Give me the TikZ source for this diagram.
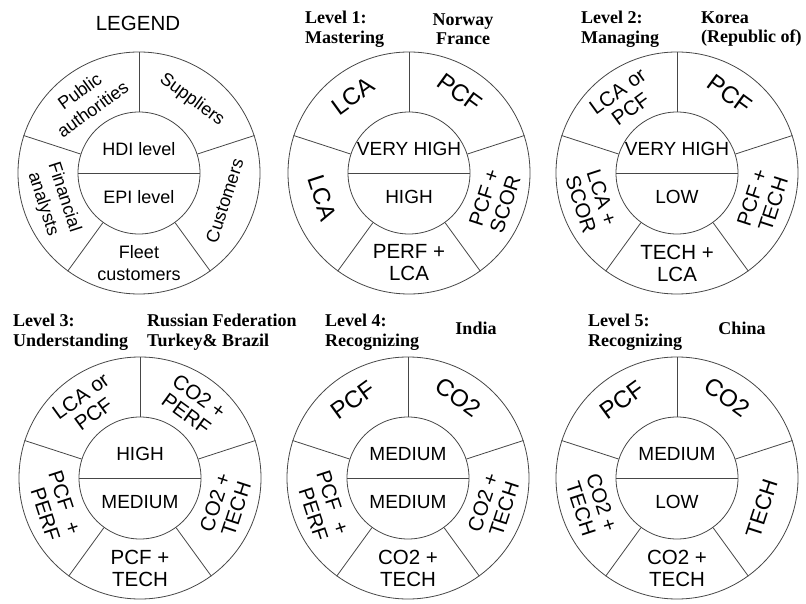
\documentclass[tikz,border=0pt]{standalone}
\usepackage{fontspec}
\setmainfont{Liberation Sans}
\newfontfamily\titlefont{Liberation Serif}
\usetikzlibrary{calc}
\definecolor{linecolor}{RGB}{70, 70, 70}
\tikzset{
outerring/.style={
  circle,
  draw=linecolor,
  line width=0.8pt,
  minimum size=242pt,
  inner sep=0pt
},
innerring/.style={
  circle,
  draw=linecolor,
  line width=0.8pt,
  minimum size=122pt,
  inner sep=0pt
},
spoke/.style={
  draw=linecolor,
  line width=0.8pt
},
sectortext/.style={
  align=center,
  inner sep=0pt,
  font=\fontsize{20.5}{22}\selectfont
},
legendtext/.style={
  font=\fontsize{18}{22}\selectfont
},
bigword/.style={
  font=\fontsize{24}{26}\selectfont
},
secNW/.style={sectortext, rotate=36},
secNE/.style={sectortext, rotate=-36},
secE/.style={sectortext, rotate=72},
secS/.style={sectortext},
secW/.style={sectortext, rotate=-72},
leveltext/.style={
  inner sep=0pt,
  font=\fontsize{19}{22}\selectfont
},
titlelabel/.style={
  align=left,
  anchor=west,
  inner sep=0pt,
  font=\titlefont\bfseries\fontsize{18}{19.5}\selectfont
},
countrylabel/.style={
  titlelabel,
  align=center,
  anchor=center
}
}

\begin{document}
\begin{tikzpicture}[x=1pt, y=1pt]
  \useasboundingbox (0,0) rectangle (806,603);
  \def\rText{90}   % radius of the sector labels
  \def\rWord{95}   % radius of the one-word labels
  \def\dLevel{24}  % offset of the HDI / EPI labels

  % Legend
  \node[font=\fontsize{20.5}{24}\selectfont] (legTitle) at (138,580) {LEGEND};
  \node[outerring] (leg-out) at (139,430) {};
  \node[innerring] (leg-in) at (139,430) {};
  \node[leveltext, legendtext] (leg-hdi) at ([yshift=\dLevel pt]leg-in.center) {HDI level};
  \node[leveltext, legendtext] (leg-epi) at ([yshift=-\dLevel pt]leg-in.center) {EPI level};
  \node[secNW, legendtext] (leg-nw) at ([shift={(126:\rText)}]leg-in.center) {Public\\authorities};
  \node[secNE, legendtext] (leg-ne) at ([shift={(54:\rText)}]leg-in.center) {Suppliers};
  \node[secE, legendtext] (leg-e) at ([shift={(-18:\rText)}]leg-in.center) {Customers};
  \node[secS, legendtext] (leg-s) at ([shift={(270:\rText)}]leg-in.center) {Fleet\\customers};
  \node[secW, legendtext] (leg-w) at ([shift={(198:\rText)}]leg-in.center) {Financial\\analysts};

  % Level 1: Norway, France
  \node[titlelabel] (one-title) at (305,574) {Level 1:\\Mastering};
  \node[countrylabel] (one-country) at (463,574) {Norway\\France};
  \node[outerring] (one-out) at (409,430) {};
  \node[innerring] (one-in) at (409,430) {};
  \node[leveltext] (one-hdi) at ([yshift=\dLevel pt]one-in.center) {VERY HIGH};
  \node[leveltext] (one-epi) at ([yshift=-\dLevel pt]one-in.center) {HIGH};
  \node[secNW, bigword] (one-nw) at ([shift={(126:\rWord)}]one-in.center) {LCA};
  \node[secNE, bigword] (one-ne) at ([shift={(58:\rWord)}]one-in.center) {PCF};
  \node[secE] (one-e) at ([shift={(-18:\rText)}]one-in.center) {PCF +\\SCOR};
  \node[secS] (one-s) at ([shift={(270:\rText)}]one-in.center) {PERF +\\LCA};
  \node[secW, bigword] (one-w) at ([shift={(196:\rText)}]one-in.center) {LCA};

  % Level 2: Korea
  \node[titlelabel] (two-title) at (581,574) {Level 2:\\Managing};
  \node[titlelabel] (two-country) at (701,574) {Korea\\(Republic of)};
  \node[outerring] (two-out) at (677,430) {};
  \node[innerring] (two-in) at (677,430) {};
  \node[leveltext] (two-hdi) at ([yshift=\dLevel pt]two-in.center) {VERY HIGH};
  \node[leveltext] (two-epi) at ([yshift=-\dLevel pt]two-in.center) {LOW};
  \node[secNW] (two-nw) at ([shift={(126:\rText)}]two-in.center) {LCA or\\PCF};
  \node[secNE, bigword] (two-ne) at ([shift={(56:\rWord)}]two-in.center) {PCF};
  \node[secE] (two-e) at ([shift={(-18:\rText)}]two-in.center) {PCF +\\TECH};
  \node[secS] (two-s) at ([shift={(270:\rText)}]two-in.center) {TECH +\\LCA};
  \node[secW] (two-w) at ([shift={(198:\rText)}]two-in.center) {LCA +\\SCOR};

  % Level 3: Russian Federation, Turkey, Brazil
  \node[titlelabel] (three-title) at (13,271) {Level 3:\\Understanding};
  \node[titlelabel] (three-country) at (147,271) {Russian Federation\\Turkey\& Brazil};
  \node[outerring] (three-out) at (140,125) {};
  \node[innerring] (three-in) at (140,125) {};
  \node[leveltext] (three-hdi) at ([yshift=\dLevel pt]three-in.center) {HIGH};
  \node[leveltext] (three-epi) at ([yshift=-\dLevel pt]three-in.center) {MEDIUM};
  \node[secNW] (three-nw) at ([shift={(126:\rText)}]three-in.center) {LCA or\\PCF};
  \node[secNE] (three-ne) at ([shift={(54:\rText)}]three-in.center) {CO2 +\\PERF};
  \node[secE] (three-e) at ([shift={(-18:\rText)}]three-in.center) {CO2 +\\TECH};
  \node[secS] (three-s) at ([shift={(270:\rText)}]three-in.center) {PCF +\\TECH};
  \node[secW, align=right] (three-w) at ([shift={(198:\rText)}]three-in.center) {PCF\hspace{12pt}+\\PERF};

  % Level 4: India
  \node[titlelabel] (four-title) at (325,271) {Level 4:\\Recognizing};
  \node[countrylabel] (four-country) at (476,275) {India};
  \node[outerring] (four-out) at (408,125) {};
  \node[innerring] (four-in) at (408,125) {};
  \node[leveltext] (four-hdi) at ([yshift=\dLevel pt]four-in.center) {MEDIUM};
  \node[leveltext] (four-epi) at ([yshift=-\dLevel pt]four-in.center) {MEDIUM};
  \node[secNW, bigword] (four-nw) at ([shift={(125:\rWord)}]four-in.center) {PCF};
  \node[secNE, bigword] (four-ne) at ([shift={(58:\rWord)}]four-in.center) {CO2};
  \node[secE] (four-e) at ([shift={(-18:\rText)}]four-in.center) {CO2 +\\TECH};
  \node[secS] (four-s) at ([shift={(270:\rText)}]four-in.center) {CO2 +\\TECH};
  \node[secW, align=right] (four-w) at ([shift={(198:\rText)}]four-in.center) {PCF\hspace{12pt}+\\PERF};

  % Level 5: China
  \node[titlelabel] (five-title) at (588,271) {Level 5:\\Recognizing};
  \node[countrylabel] (five-country) at (742,275) {China};
  \node[outerring] (five-out) at (677,125) {};
  \node[innerring] (five-in) at (677,125) {};
  \node[leveltext] (five-hdi) at ([yshift=\dLevel pt]five-in.center) {MEDIUM};
  \node[leveltext] (five-epi) at ([yshift=-\dLevel pt]five-in.center) {LOW};
  \node[secNW, bigword] (five-nw) at ([shift={(125:\rWord)}]five-in.center) {PCF};
  \node[secNE, bigword] (five-ne) at ([shift={(58:\rWord)}]five-in.center) {CO2};
  \node[secE, font=\fontsize{22}{24}\selectfont] (five-e) at ([shift={(-20:\rText)}]five-in.center) {TECH};
  \node[secS] (five-s) at ([shift={(270:\rText)}]five-in.center) {CO2 +\\TECH};
  \node[secW] (five-w) at ([shift={(198:\rText)}]five-in.center) {CO2 +\\TECH};

  % Spokes and dividers
  \foreach \w in {leg,one,two,three,four,five} {
    \foreach \a in {18,90,162,234,306} {
      \draw[spoke] (\w-in.\a) -- (\w-out.\a);
    }
    \draw[spoke] (\w-in.west) -- (\w-in.east);
  }
\end{tikzpicture}
\end{document}
